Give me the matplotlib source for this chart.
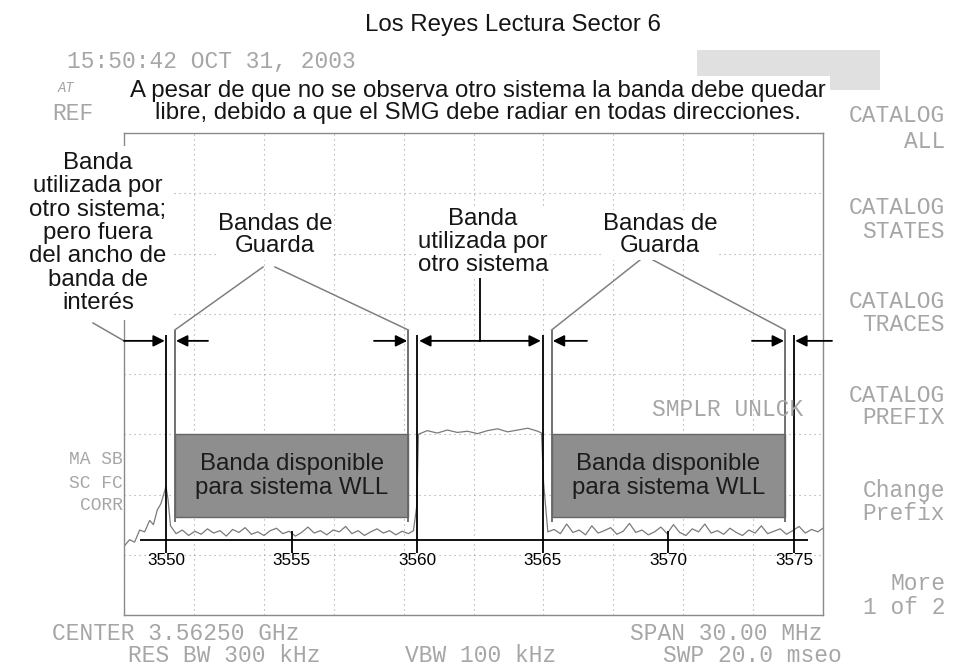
import matplotlib
matplotlib.use("Agg")
import matplotlib.pyplot as plt
import numpy as np
from matplotlib.patches import Rectangle

# spectrum trace (MHz, dB below reference)
trace_mhz = [
    3548.37, 3548.55, 3548.75, 3548.95, 3549.15, 3549.35, 3549.50, 3549.65,
    3549.80, 3549.92, 3550.00, 3550.08, 3550.18,
    3550.40, 3550.65, 3550.90, 3551.15, 3551.40, 3551.65, 3551.90, 3552.15,
    3552.40, 3552.65, 3552.90, 3553.15, 3553.40, 3553.65, 3553.90, 3554.15,
    3554.40, 3554.65, 3554.90, 3555.15, 3555.40, 3555.65, 3555.90, 3556.15,
    3556.40, 3556.65, 3556.90, 3557.15, 3557.40, 3557.65, 3557.90, 3558.15,
    3558.40, 3558.65, 3558.90, 3559.15, 3559.40, 3559.65, 3559.85, 3559.98,
    3560.05, 3560.40, 3560.80, 3561.20, 3561.60, 3562.00, 3562.40, 3562.80,
    3563.20, 3563.60, 3564.00, 3564.40, 3564.80, 3564.95, 3565.03, 3565.20,
    3565.45, 3565.70, 3565.95, 3566.20, 3566.45, 3566.70, 3566.95, 3567.20,
    3567.45, 3567.70, 3567.95, 3568.20, 3568.45, 3568.70, 3568.95, 3569.20,
    3569.45, 3569.70, 3569.95, 3570.20, 3570.45, 3570.70, 3570.95, 3571.20,
    3571.45, 3571.70, 3571.95, 3572.20, 3572.45, 3572.70, 3572.95, 3573.20,
    3573.45, 3573.70, 3573.95, 3574.20, 3574.45, 3574.70, 3574.95, 3575.20,
    3575.45, 3575.70, 3575.95, 3576.15,
]
trace_db = [
    -68.4, -67.5, -67.9, -65.9, -66.2, -64.3, -65.0, -62.6,
    -61.5, -59.8, -58.7, -60.8, -65.2,
    -66.5, -65.9, -66.8, -66.1, -66.6, -65.7, -66.4, -66.0,
    -66.9, -65.8, -66.3, -65.5, -66.6, -66.2, -66.8, -66.0,
    -65.6, -66.5, -66.1, -66.9, -66.3, -65.4, -66.4, -66.0,
    -66.7, -65.9, -66.2, -65.3, -66.5, -66.0, -66.8, -66.2,
    -65.7, -66.4, -66.0, -66.7, -66.1, -66.5, -66.0, -62.0,
    -50.0, -49.4, -49.8, -49.3, -49.7, -49.5, -49.9, -49.4,
    -49.1, -49.6, -49.3, -49.0, -49.5, -49.8, -58.0, -66.2,
    -65.8, -66.5, -64.9, -66.3, -65.9, -66.7, -65.2, -66.4,
    -66.0, -65.5, -66.6, -66.1, -64.8, -66.3, -65.9, -66.7,
    -66.2, -65.4, -66.5, -65.0, -66.3, -66.8, -65.7, -66.2,
    -64.9, -66.4, -66.0, -66.6, -65.6, -66.3, -66.8, -65.9,
    -66.4, -65.2, -66.5, -66.1, -65.7, -66.6, -66.0, -65.3,
    -66.4, -65.8, -66.2, -65.6,
]

band_edges = [3550, 3560, 3565, 3575]
guard_lines = [3550.35, 3559.65, 3565.35, 3574.65]
wll_bands = [(3550.35, 3559.65), (3565.35, 3574.65)]
other_band = (3560, 3565)
axis_ticks = [3550, 3555, 3560, 3565, 3570, 3575]

menu_lines = [("CATALOG", 115), ("ALL", 141), ("CATALOG", 208), ("STATES", 232),
              ("CATALOG", 302), ("TRACES", 325), ("CATALOG", 395), ("PREFIX", 418),
              ("Change", 490), ("Prefix", 514), ("More", 583), ("1 of 2", 607)]

W, H = 980, 669
SANS = ["Liberation Sans", "DejaVu Sans"]
MONO = ["Liberation Mono", "DejaVu Sans Mono"]
GREY_TXT = "#a6a6a6"


def fx(x):
    return x / W


def fy(y):
    return 1 - y / H


def px(x, y):
    # reference pixel -> data coords, only used for annotation placement
    return 3550 + (x - 166) / 25.12, -(y - 133) / 6.025


fig = plt.figure(figsize=(9.8, 6.69), dpi=100)
ax = fig.add_axes([fx(124), fy(615), 699 / W, 482 / H])
x0, x1 = px(124, 0)[0], px(823, 0)[0]
ax.set_xlim(x0, x1)
ax.set_ylim(-80, 0)
ax.set_xticks(np.linspace(x0, x1, 11))
ax.set_yticks(np.arange(-80, 1, 10))
ax.tick_params(length=0, labelbottom=False, labelleft=False)
ax.grid(True, color="#a0a0a0", lw=0.8, ls=(0, (1, 3.5)))
for sp in ax.spines.values():
    sp.set_color("#8a8a8a")
    sp.set_linewidth(1.0)

ax.plot(trace_mhz, trace_db, color="#7a7a7a", lw=0.9, zorder=2)

# available WLL bands
for lo, hi in wll_bands:
    ax.add_patch(Rectangle((lo, -63.8), hi - lo, 13.8, fc="#8e8e8e", ec="#666666",
                           lw=1.0, zorder=3))
    ax.text((lo + hi) / 2, -56.9, "Banda disponible\npara sistema WLL", ha="center",
            va="center", fontsize=17.3, family=SANS, color="#1c1c1c", linespacing=1.1,
            zorder=5)

arrow_db = -34.5
ax.vlines(band_edges, -33.5, -69.7, color="black", lw=1.3, zorder=4)
ax.vlines(guard_lines, -32.7, -64.6, color="#666666", lw=1.3, zorder=4)
ax.hlines(-67.6, px(140, 0)[0], px(808, 0)[0], color="black", lw=1.3, zorder=4)
ax.vlines([t for t in axis_ticks if t not in band_edges], -66.0, -69.7, color="black",
          lw=1.3, zorder=4)
for t in axis_ticks:
    ax.text(t, -71.0, str(t), ha="center", va="center", fontsize=12.3, family=SANS,
            zorder=5)


def arrow(tail, head, style="-|>"):
    ax.annotate("", xy=(head, arrow_db), xytext=(tail, arrow_db),
                arrowprops=dict(arrowstyle=style, color="black", lw=1.3,
                                mutation_scale=17, shrinkA=0, shrinkB=0),
                annotation_clip=False, zorder=6)


arrow(x0, band_edges[0] - 0.05)
arrow(px(208, 0)[0], guard_lines[0] + 0.05)
arrow(px(374, 0)[0], guard_lines[1] - 0.05)
arrow(other_band[0] + 0.08, other_band[1] - 0.08, "<|-|>")
arrow(px(587, 0)[0], guard_lines[2] + 0.05)
arrow(px(752, 0)[0], guard_lines[3] - 0.05)
arrow(px(832, 0)[0], band_edges[3] + 0.05)

# leader lines to the labels
lead = dict(color="#808080", lw=1.1, clip_on=False, zorder=4)
ax.plot([px(93, 323)[0], x0], [px(93, 323)[1], arrow_db], **lead)
gy = px(0, 267)[1]
ax.plot([px(263, 0)[0], guard_lines[0]], [gy, -32.7], **lead)
ax.plot([px(275, 0)[0], guard_lines[1]], [gy, -32.7], **lead)
gy = px(0, 260)[1]
ax.plot([px(640, 0)[0], guard_lines[2]], [gy, -32.7], **lead)
ax.plot([px(653, 0)[0], guard_lines[3]], [gy, -32.7], **lead)
mid = sum(other_band) / 2
ax.plot([mid, mid], [px(0, 275)[1], arrow_db], color="black", lw=1.3, zorder=4)

# texts around the screen
txt = dict(family=SANS, fontsize=17.3, color="#151515", ha="center", va="center")
wbox = dict(fc="white", ec="none", pad=1.5)
fig.text(fx(513), fy(25), "Los Reyes Lectura Sector 6", **txt)
fig.text(fx(478), fy(102),
         "A pesar de que no se observa otro sistema la banda debe quedar\n"
         "libre, debido a que el SMG debe radiar en todas direcciones.",
         linespacing=1.0, bbox=dict(fc="white", ec="none", pad=3), **txt)
fig.text(fx(98), fy(233),
         "Banda\nutilizada por\notro sistema;\npero fuera\ndel ancho de\nbanda de\ninterés",
         linespacing=1.08, bbox=dict(fc="white", ec="none", pad=4), **txt)
fig.text(fx(275), fy(235), "Bandas de\nGuarda", linespacing=1.05, bbox=wbox, **txt)
fig.text(fx(660), fy(235), "Bandas de\nGuarda", linespacing=1.05, bbox=wbox, **txt)
fig.text(fx(483), fy(242), "Banda\nutilizada por\notro sistema", linespacing=1.05,
         bbox=wbox, **txt)

# analyzer screen annotations (faint)
mono = dict(family=MONO, fontsize=16.5, color=GREY_TXT, va="center")
fig.add_artist(Rectangle((fx(697), fy(90)), 183 / W, 40 / H, transform=fig.transFigure,
                         fc="#e0e0e0", ec="none", zorder=0))
fig.text(fx(67), fy(62), "15:50:42 OCT 31, 2003", ha="left", **mono)
fig.text(fx(52), fy(113), "REF", ha="left", **mono)
fig.text(fx(58), fy(88), "AT", ha="left", family=MONO, fontsize=10, color=GREY_TXT,
         style="italic", va="center")
for label, y in menu_lines:
    fig.text(fx(945), fy(y), label, ha="right", **mono)
for label, y in [("MA SB", 460), ("SC FC", 483), ("CORR", 506)]:
    fig.text(fx(123), fy(y), label, ha="right", family=MONO, fontsize=13,
             color=GREY_TXT, va="center")
fig.text(fx(652), fy(410), "SMPLR UNLCK", ha="left", **mono)
fig.text(fx(52), fy(633), "CENTER 3.56250 GHz", ha="left", **mono)
fig.text(fx(128), fy(655), "RES BW 300 kHz", ha="left", **mono)
fig.text(fx(405), fy(655), "VBW 100 kHz", ha="left", **mono)
fig.text(fx(630), fy(633), "SPAN 30.00 MHz", ha="left", **mono)
fig.text(fx(663), fy(655), "SWP 20.0 mseo", ha="left", **mono)

fig.savefig("out.png", dpi=100, facecolor="white")
